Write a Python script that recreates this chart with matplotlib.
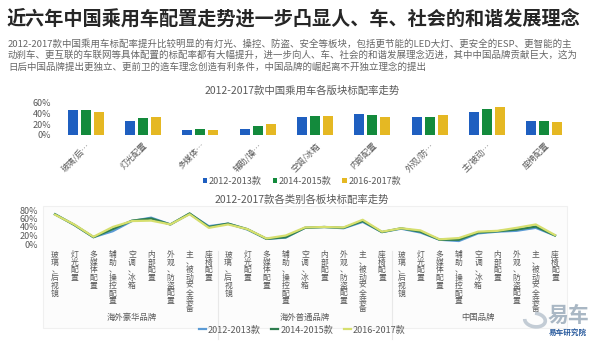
import matplotlib
matplotlib.use("Agg")
import matplotlib.pyplot as plt
from matplotlib.patches import Arc, Rectangle
import numpy as np

plt.rcParams['font.family'] = ['Noto Sans CJK SC', 'DejaVu Sans']
plt.rcParams['axes.unicode_minus'] = False

W, H = 595, 341

title = "近六年中国乘用车配置走势进一步凸显人、车、社会的和谐发展理念"
intro = [
    "2012-2017款中国乘用车标配率提升比较明显的有灯光、操控、防盗、安全等板块，包括更节能的LED大灯、更安全的ESP、更智能的主",
    "动刹车、更互联的车联网等具体配置的标配率都有大幅提升，进一步向人、车、社会的和谐发展理念迈进，其中中国品牌贡献巨大，这为",
    "日后中国品牌提出更独立、更前卫的造车理念创造有利条件，中国品牌的崛起离不开独立理念的提出",
]

periods = ["2012-2013款", "2014-2015款", "2016-2017款"]

# overall standard-fit rate per block (bar chart)
bar_labels = ["玻璃/后…", "灯光配置", "多媒体…", "辅助/操…", "空调/冰箱",
              "内部配置", "外观/防…", "主/被动…", "座椅配置"]
bar_2012 = [47, 27, 9, 12, 34, 40, 34, 44, 27]
bar_2014 = [47, 31, 11, 16, 36, 37, 34, 49, 26]
bar_2016 = [44, 33, 9, 21, 35, 34, 38, 53, 24]

# per brand class (line chart)
blocks = ["玻璃、后视镜", "灯光配置", "多媒体配置", "辅助、操控配置", "空调、冰箱",
          "内部配置", "外观、防盗配置", "主、被动安全装备", "座椅配置"]
groups = ["海外豪华品牌", "海外普通品牌", "中国品牌"]
line_2012 = [70, 45, 16, 30, 54, 62, 46, 71, 42,
             48, 34, 12, 15, 38, 40, 37, 52, 28,
             36, 27, 10, 7, 25, 29, 31, 38, 20]
line_2014 = [70, 45, 16, 35, 55, 60, 46, 72, 40,
             48, 35, 12, 16, 38, 40, 38, 54, 28,
             37, 29, 10, 10, 27, 30, 34, 41, 20]
line_2016 = [69, 46, 17, 40, 54, 55, 46, 70, 38,
             46, 35, 13, 20, 39, 40, 39, 57, 29,
             37, 32, 11, 14, 29, 31, 38, 46, 21]

bar_colors = ["#1f5fc0", "#138a3c", "#e5b823"]
line_colors = ["#5b9bd5", "#2e7d4f", "#d6df6e"]
grey = "#595959"


def box(x0, y0, x1, y1):
    # pixel box (top-left origin) -> figure fraction rect
    return [x0 / W, 1 - y1 / H, (x1 - x0) / W, (y1 - y0) / H]


fig = plt.figure(figsize=(W / 100, H / 100), dpi=100)
fig.patch.set_facecolor("white")

fig.text(6 / W, 1 - 19 / H, title, fontsize=13.8, fontweight="bold",
         color="#262626", va="center", ha="left")
for i, line in enumerate(intro):
    fig.text(8 / W, 1 - (44 + i * 11.5) / H, line, fontsize=6.8,
             color="#666666", va="center", ha="left")

# ---- bar chart ----
ax1 = fig.add_axes(box(57, 103, 573, 135))
x = np.arange(len(bar_labels))
bw = 0.175
for k, (vals, c) in enumerate(zip([bar_2012, bar_2014, bar_2016], bar_colors)):
    ax1.bar(x + (k - 1) * 0.227, np.array(vals) / 100, width=bw, color=c,
            label=periods[k])
ax1.set_xlim(-0.5, len(bar_labels) - 0.5)
ax1.set_ylim(0, 0.6)
ax1.set_yticks([0, 0.2, 0.4, 0.6])
ax1.set_yticklabels(["0%", "20%", "40%", "60%"], fontsize=6.5, color=grey)
ax1.set_xticks(x)
ax1.set_xticklabels(bar_labels, rotation=45, ha="right", rotation_mode="anchor",
                    fontsize=6, color=grey)
ax1.tick_params(length=0, pad=4)
for s in ax1.spines.values():
    s.set_visible(False)
fig.text(302 / W, 1 - 91 / H, "2012-2017款中国乘用车各版块标配率走势",
         fontsize=7.5, color=grey, ha="center", va="center")
fig.legend(*ax1.get_legend_handles_labels(), loc="center",
           bbox_to_anchor=(302 / W, 1 - 181 / H), ncol=3, frameon=False,
           fontsize=6.5, handlelength=0.5, handleheight=0.5, handletextpad=0.2,
           columnspacing=1.2, labelcolor=grey)

# faint panel behind the line chart
fig.patches.append(Rectangle((43 / W, 1 - 328 / H), 524 / W, 122 / H,
                             transform=fig.transFigure, facecolor="#fcfcfc",
                             edgecolor="#f0f0f0", lw=0.8, zorder=-5))

# ---- line chart ----
ax2 = fig.add_axes(box(45, 210, 565, 244))
ax2.patch.set_alpha(0)
xs = np.arange(len(line_2012))
for vals, c, lab in zip([line_2012, line_2014, line_2016], line_colors, periods):
    ax2.plot(xs, np.array(vals) / 100, color=c, lw=1.6, label=lab)
ax2.set_xlim(-0.52, len(xs) - 0.48)
ax2.set_ylim(0, 0.8)
ax2.set_yticks([0, 0.2, 0.4, 0.6, 0.8])
ax2.set_yticklabels(["0%", "20%", "40%", "60%", "80%"], fontsize=6.5, color=grey)
ax2.set_xticks(xs)
ax2.set_xticklabels(["\n".join(b) for b in blocks * len(groups)],
                    fontsize=5.6, color=grey, va="top", linespacing=0.95)
ax2.tick_params(length=0, pad=5)
for s in ax2.spines.values():
    s.set_visible(False)
fig.text(302 / W, 1 - 200 / H, "2012-2017款各类别各板块标配率走势",
         fontsize=7.5, color=grey, ha="center", va="center")

n = len(blocks)
xform = ax2.get_xaxis_transform()
for g, name in enumerate(groups):
    cx = g * n + (n - 1) / 2
    ax2.text(cx, -2.16, name, transform=xform,
             ha="center", va="center", fontsize=6, color=grey)
for g in range(1, len(groups)):
    xp = g * n - 0.5
    ax2.plot([xp, xp], [-0.2, -2.8], color="#e8e8e8", lw=0.8,
             transform=xform, clip_on=False)

fig.legend(*ax2.get_legend_handles_labels(), loc="center",
           bbox_to_anchor=(302 / W, 1 - 330 / H), ncol=3, frameon=False,
           fontsize=6.5, handlelength=0.8, handletextpad=0.2,
           columnspacing=1.2, labelcolor=grey)

# brand mark, lower right
fig.patches.append(Arc((535 / W, 1 - 320 / H), 20 / W, 14 / H, angle=20,
                       theta1=150, theta2=430, transform=fig.transFigure,
                       color="#c3ccd5", lw=2.6))
fig.text(568 / W, 1 - 315 / H, "易车", fontsize=15, color="#a9b7c4",
         ha="center", va="center", fontweight="bold", style="italic")
fig.text(568 / W, 1 - 332 / H, "易车研究院", fontsize=5.5, color="#2b5c9e",
         ha="center", va="center", fontweight="bold")

fig.savefig("out.png", dpi=100)
